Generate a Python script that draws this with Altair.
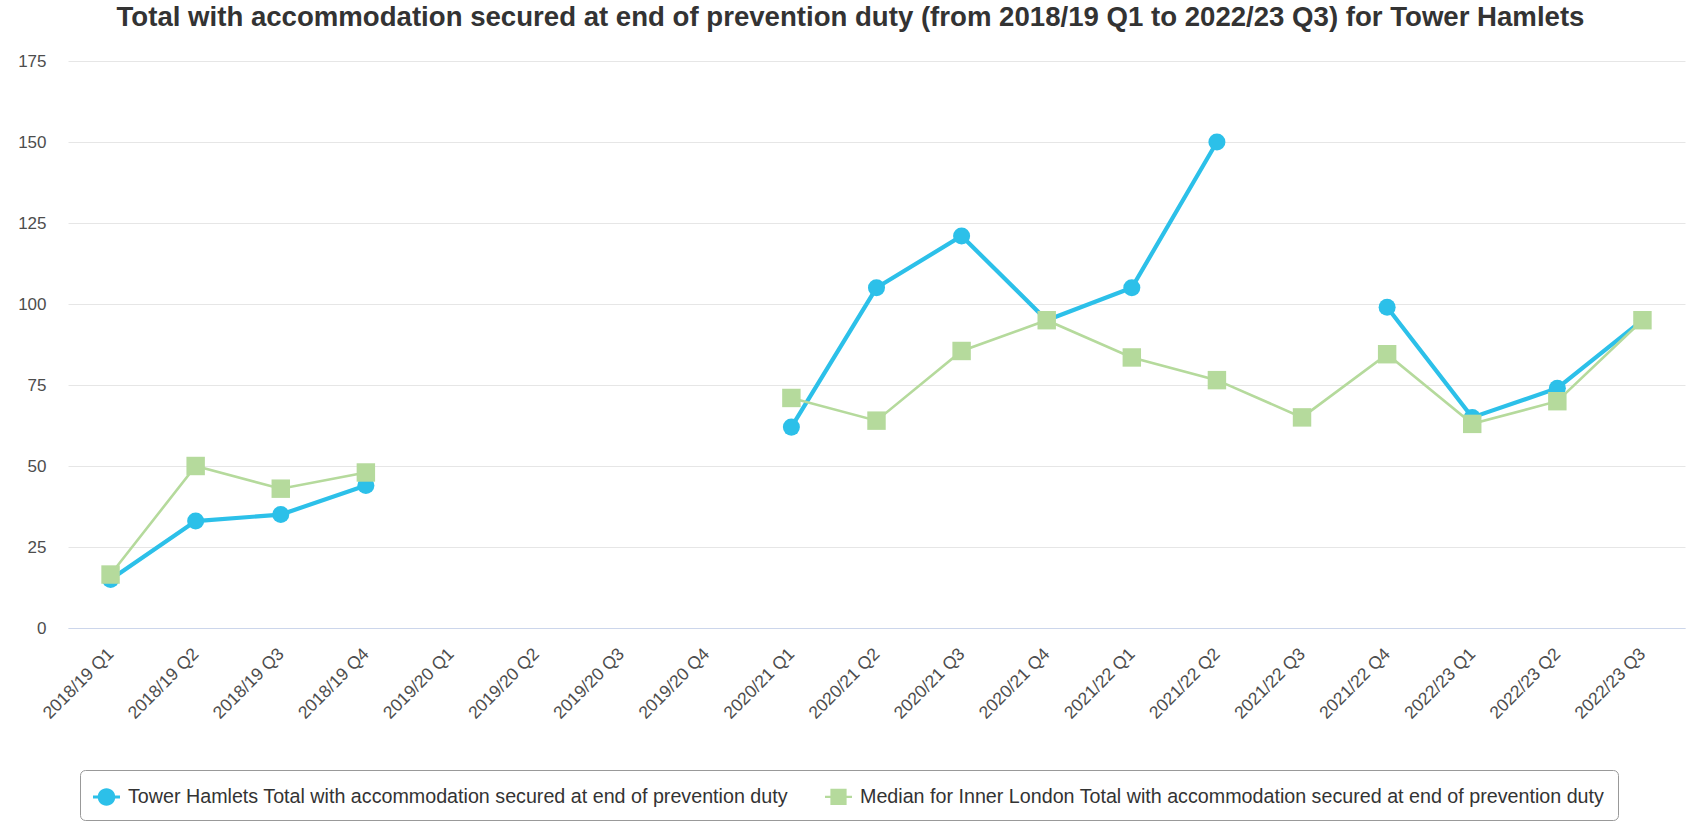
import altair as alt
import pandas as pd

quarters = [
    "2018/19 Q1", "2018/19 Q2", "2018/19 Q3", "2018/19 Q4",
    "2019/20 Q1", "2019/20 Q2", "2019/20 Q3", "2019/20 Q4",
    "2020/21 Q1", "2020/21 Q2", "2020/21 Q3", "2020/21 Q4",
    "2021/22 Q1", "2021/22 Q2", "2021/22 Q3", "2021/22 Q4",
    "2022/23 Q1", "2022/23 Q2", "2022/23 Q3",
]
tower_hamlets = [15, 33, 35, 44, None, None, None, None, 62, 105, 121, 95,
                 105, 150, None, 99, 65, 74, 95]
inner_london_median = [16.5, 50, 43, 48, None, None, None, None, 71, 64, 85.5, 95,
                       83.5, 76.5, 65, 84.5, 63, 70, 95]
y_ticks = [0, 25, 50, 75, 100, 125, 150, 175]

S1 = "Tower Hamlets Total with accommodation secured at end of prevention duty"
S2 = "Median for Inner London Total with accommodation secured at end of prevention duty"
series_names = [S1, S2]
series_colors = ["#2cc0e9", "#b5da9c"]

rows = []
for q, v in zip(quarters, tower_hamlets):
    rows.append({"quarter": q, "series": S1, "value": v})
for q, v in zip(quarters, inner_london_median):
    rows.append({"quarter": q, "series": S2, "value": v})
df = pd.DataFrame(rows)

FONT = "Liberation Sans"
AXIS_TEXT = "#4d4d4d"

circle_path = ("M-1,-0.11H-0.64V0.11H-1Z M0.64,-0.11H1V0.11H0.64Z "
               "M0.65,0A0.65,0.65,0,1,1,-0.65,0A0.65,0.65,0,1,1,0.65,0Z")
square_path = ("M-0.6,-0.6H0.6V0.6H-0.6Z M-1,-0.09H-0.6V0.09H-1Z "
               "M0.6,-0.09H1V0.09H0.6Z")

legend = alt.Legend(
    title=None,
    orient="none",
    legendX=12,
    legendY=709,
    direction="horizontal",
    labelFont=FONT,
    labelFontSize=19.7,
    labelColor="#333333",
    labelLimit=2000,
    labelOffset=8,
    symbolSize=729,
    symbolStrokeWidth=0,
    symbolOpacity=1,
    columnPadding=37,
    padding=13,
    strokeColor="#999999",
    cornerRadius=5,
)

x = alt.X(
    "quarter:N",
    sort=quarters,
    scale=alt.Scale(domain=quarters),
    axis=alt.Axis(
        title=None,
        labelAngle=315,
        labelAlign="right",
        labelBaseline="middle",
        labelFont=FONT,
        labelFontSize=17.5,
        labelColor=AXIS_TEXT,
        labelPadding=23,
        ticks=False,
        tickSize=0,
        domainColor="#ccd6eb",
        domainWidth=1,
        grid=False,
        labelOverlap=False,
    ),
)
y = alt.Y(
    "value:Q",
    scale=alt.Scale(domain=[0, 175], nice=False),
    axis=alt.Axis(
        title=None,
        values=y_ticks,
        labelFont=FONT,
        labelFontSize=17,
        labelColor=AXIS_TEXT,
        labelPadding=22,
        ticks=False,
        tickSize=0,
        domain=False,
        gridColor="#e6e6e6",
        gridWidth=1,
    ),
)

base = alt.Chart(df)

blue_line = base.transform_filter(alt.datum.series == S1).mark_line(
    strokeWidth=4.2, color=series_colors[0], invalid="break-paths-show-domains"
).encode(x=x, y=y)
blue_pts = base.transform_filter(alt.datum.series == S1).mark_point(
    filled=True, shape="circle", size=290, opacity=1, color=series_colors[0]
).encode(x=x, y=y)
green_line = base.transform_filter(alt.datum.series == S2).mark_line(
    strokeWidth=2.6, color=series_colors[1], invalid="break-paths-show-domains"
).encode(x=x, y=y)
green_pts = base.transform_filter(alt.datum.series == S2).mark_point(
    filled=True, shape="square", size=340, opacity=1, color=series_colors[1]
).encode(x=x, y=y)

# legend-only layer (no rows pass the filter): supplies the legend entries
legend_layer = base.transform_filter("false").mark_point(filled=True, opacity=1).encode(
    x=x,
    y=y,
    color=alt.Color("series:N", scale=alt.Scale(domain=series_names, range=series_colors),
                    legend=legend, sort=series_names),
    shape=alt.Shape("series:N", scale=alt.Scale(domain=series_names, range=[circle_path, square_path]),
                    legend=legend, sort=series_names),
)

chart = alt.layer(blue_line, blue_pts, green_line, green_pts, legend_layer).properties(
    width=1617,
    height=567,
    background="white",
    title=alt.TitleParams(
        text="Total with accommodation secured at end of prevention duty (from 2018/19 Q1 to 2022/23 Q3) for Tower Hamlets",
        font=FONT,
        fontSize=27.6,
        fontWeight="bold",
        color="#333333",
        anchor="middle",
        dx=-26,
        offset=20,
    ),
    autosize=alt.AutoSizeParams(type="none"),
    padding={"left": 68, "top": 61, "right": 8, "bottom": 193},
).configure_view(strokeWidth=0, stroke="transparent")

chart.save("out.html", embed_options={"renderer": "svg", "actions": False})
